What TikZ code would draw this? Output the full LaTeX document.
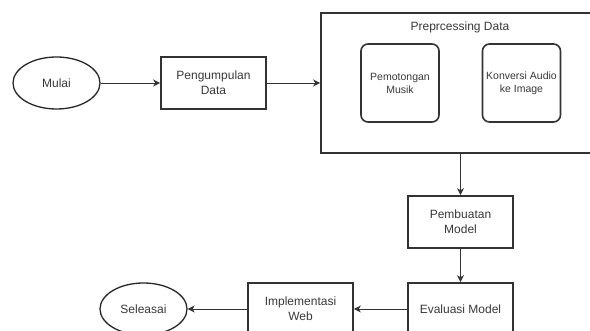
\documentclass[tikz,border=0pt]{standalone}
\usepackage{fontspec}
\setmainfont{Liberation Sans}
\usetikzlibrary{arrows.meta, shapes.geometric}

\begin{document}
\begin{tikzpicture}[x=1pt, y=-1pt,
    every node/.style={text=black!78, font=\fontsize{12}{15}\selectfont, align=center},
    box/.style={draw=black!80, line width=1.6pt, minimum width=105pt, minimum height=52pt, inner sep=0pt},
    terminal/.style={draw=black!85, ellipse, line width=1.3pt, minimum width=87pt, minimum height=52pt, inner sep=0pt},
    subbox/.style={draw=black!80, line width=1.6pt, rounded corners=7pt, minimum width=78pt, minimum height=78pt, inner sep=0pt, font=\fontsize{10.5}{13}\selectfont},
    flow/.style={draw=black!80, line width=0.9pt, -{Stealth[length=7pt, width=7pt, inset=2pt]}}]
    % Frame
    \useasboundingbox (0,0) rectangle (590,331);
    \clip (0,0) rectangle (590,331);
    % Top row
    \node[terminal] (mulai) at (56.5,83) {Mulai};
    \node[box] (kumpul) at (213.5,83) {Pengumpulan\\Data};
    % Preprocessing group
    \node[box, minimum width=278pt, minimum height=140pt] (prep) at (460,83) {};
    \node (preplabel) at (460,27) {Preprcessing Data};
    \node[subbox] (potong) at (400,83) {Pemotongan\\Musik};
    \node[subbox] (konversi) at (521.5,83) {Konversi Audio\\ke Image};
    % Model
    \node[box] (buat) at (460.5,222) {Pembuatan\\Model};
    \node[box] (evaluasi) at (460.5,309) {Evaluasi Model};
    % Bottom row
    \node[box] (implementasi) at (300.5,309) {Implementasi\\Web};
    \node[terminal] (selesai) at (143.5,309) {Seleasai};
    % Connectors
    \draw[flow] (mulai) -- (kumpul);
    \draw[flow] (kumpul) -- (prep.west |- kumpul);
    \draw[flow] (prep.south -| buat) -- (buat);
    \draw[flow] (buat) -- (evaluasi);
    \draw[flow] (evaluasi) -- (implementasi);
    \draw[flow] (implementasi) -- (selesai);
\end{tikzpicture}
\end{document}
